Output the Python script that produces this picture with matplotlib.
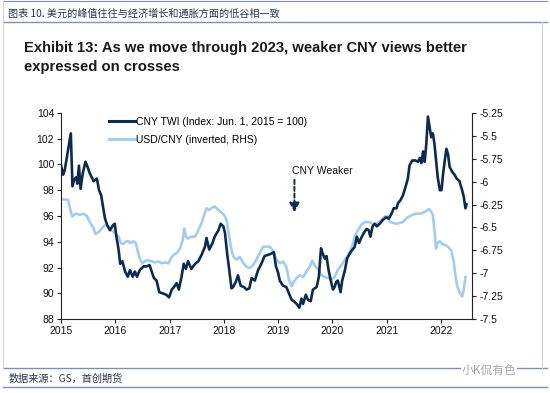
import matplotlib
matplotlib.use("Agg")
import matplotlib.pyplot as plt
from matplotlib.lines import Line2D

# CNY trade-weighted index (left axis), decimal year / value
twi_t = [2015.00, 2015.04, 2015.07, 2015.13, 2015.18, 2015.20, 2015.21, 2015.24, 2015.28, 2015.30,
         2015.33, 2015.36, 2015.40, 2015.45, 2015.48, 2015.53, 2015.60, 2015.66, 2015.70, 2015.74,
         2015.77, 2015.81, 2015.85, 2015.90, 2015.96, 2015.99, 2016.02, 2016.06, 2016.09, 2016.13,
         2016.18, 2016.23, 2016.27, 2016.32, 2016.36, 2016.40, 2016.45, 2016.52, 2016.58, 2016.63,
         2016.67, 2016.71, 2016.76, 2016.81, 2016.88, 2016.94, 2016.99, 2017.04, 2017.08, 2017.13,
         2017.17, 2017.22, 2017.26, 2017.30, 2017.34, 2017.40, 2017.47, 2017.53, 2017.59, 2017.65,
         2017.68, 2017.73, 2017.79, 2017.83, 2017.90, 2017.94, 2017.99, 2018.02, 2018.06, 2018.10,
         2018.14, 2018.17, 2018.22, 2018.26, 2018.31, 2018.37, 2018.42, 2018.47, 2018.51, 2018.57,
         2018.63, 2018.69, 2018.75, 2018.82, 2018.88, 2018.92, 2018.96, 2019.00, 2019.03, 2019.09,
         2019.15, 2019.20, 2019.25, 2019.29, 2019.34, 2019.39, 2019.43, 2019.46, 2019.51, 2019.55,
         2019.60, 2019.64, 2019.71, 2019.75, 2019.79, 2019.82, 2019.86, 2019.89, 2019.93, 2019.97,
         2020.01, 2020.04, 2020.07, 2020.10, 2020.15, 2020.18, 2020.23, 2020.27, 2020.32, 2020.37,
         2020.41, 2020.45, 2020.49, 2020.53, 2020.58, 2020.63, 2020.67, 2020.70, 2020.74, 2020.78,
         2020.82, 2020.87, 2020.93, 2020.99, 2021.04, 2021.09, 2021.13, 2021.18, 2021.21, 2021.25,
         2021.30, 2021.35, 2021.39, 2021.42, 2021.47, 2021.53, 2021.58, 2021.61, 2021.64, 2021.67,
         2021.70, 2021.73, 2021.76, 2021.79, 2021.82, 2021.85, 2021.88, 2021.91, 2021.94, 2021.98,
         2022.01, 2022.04, 2022.07, 2022.10, 2022.13, 2022.16, 2022.21, 2022.25, 2022.29, 2022.34,
         2022.39, 2022.42, 2022.45, 2022.47]
twi_v = [99.9, 99.2, 99.6, 101.1, 102.4, 99.8, 98.3, 98.8, 99.0, 98.5,
         99.9, 98.1, 99.3, 100.2, 99.9, 99.3, 98.7, 98.9, 98.0, 97.6,
         96.8, 95.8, 95.3, 94.9, 95.3, 95.4, 94.4, 93.4, 92.3, 92.5,
         91.7, 91.3, 91.8, 91.3, 91.7, 91.3, 91.8, 92.1, 92.1, 92.2,
         91.7, 91.2, 91.0, 90.1, 90.0, 89.9, 89.7, 90.3, 90.5, 90.8,
         90.3, 91.3, 92.3, 91.9, 92.5, 91.9, 92.3, 92.5, 93.0, 93.6,
         94.3, 93.4, 93.9, 94.4, 94.9, 95.4, 95.2, 94.7, 93.1, 91.8,
         90.4, 90.5, 90.9, 91.4, 90.6, 90.5, 90.3, 90.4, 91.2, 91.0,
         91.8, 92.3, 92.9, 93.0, 93.1, 93.2, 92.1, 91.6, 91.0, 90.6,
         90.5, 90.0, 89.5, 89.4, 89.2, 88.9, 89.6, 89.2, 89.9, 89.5,
         89.4, 90.3, 90.5, 91.3, 93.5, 93.1, 92.7, 92.9, 91.8, 91.0,
         90.3, 90.5, 90.9, 91.0, 90.1, 91.0, 91.8, 92.7, 93.1, 93.4,
         93.6, 94.4, 93.9, 94.3, 94.7, 95.0, 94.9, 94.4, 95.2, 95.4,
         95.2, 95.4, 95.7, 95.9, 95.8, 96.2, 96.6, 96.6, 97.0, 97.2,
         97.6, 98.3, 98.9, 99.9, 100.3, 100.3, 100.2, 100.5, 100.1, 101.0,
         100.2, 101.6, 103.7, 102.9, 102.1, 102.4, 101.6, 100.3, 99.0, 98.0,
         98.0, 99.3, 100.3, 101.2, 100.8, 99.8, 99.4, 99.2, 98.9, 98.7,
         98.0, 97.5, 96.6, 96.9]

# USD/CNY inverted (right axis)
usd_t = [2015.00, 2015.13, 2015.18, 2015.21, 2015.26, 2015.35, 2015.42, 2015.48, 2015.53, 2015.60,
         2015.63, 2015.67, 2015.72, 2015.78, 2015.83, 2015.87, 2015.93, 2015.99, 2016.06, 2016.10,
         2016.15, 2016.20, 2016.24, 2016.28, 2016.33, 2016.38, 2016.41, 2016.45, 2016.50, 2016.56,
         2016.62, 2016.67, 2016.73, 2016.79, 2016.85, 2016.91, 2016.98, 2017.02, 2017.07, 2017.13,
         2017.19, 2017.24, 2017.27, 2017.30, 2017.34, 2017.40, 2017.47, 2017.53, 2017.59, 2017.63,
         2017.68, 2017.73, 2017.77, 2017.83, 2017.90, 2017.94, 2018.00, 2018.05, 2018.10, 2018.14,
         2018.18, 2018.23, 2018.29, 2018.36, 2018.42, 2018.48, 2018.54, 2018.60, 2018.66, 2018.72,
         2018.79, 2018.85, 2018.91, 2018.97, 2019.03, 2019.09, 2019.15, 2019.20, 2019.25, 2019.29,
         2019.34, 2019.40, 2019.46, 2019.52, 2019.58, 2019.63, 2019.67, 2019.74, 2019.80, 2019.86,
         2019.92, 2019.98, 2020.04, 2020.10, 2020.17, 2020.23, 2020.29, 2020.36, 2020.41, 2020.47,
         2020.53, 2020.60, 2020.66, 2020.72, 2020.78, 2020.84, 2020.90, 2020.96, 2021.01, 2021.06,
         2021.12, 2021.18, 2021.24, 2021.30, 2021.36, 2021.42, 2021.48, 2021.55, 2021.61, 2021.67,
         2021.73, 2021.78, 2021.82, 2021.85, 2021.88, 2021.91, 2021.94, 2021.98, 2022.02, 2022.07,
         2022.13, 2022.19, 2022.24, 2022.27, 2022.30, 2022.34, 2022.39, 2022.42, 2022.45]
usd_v = [-6.19, -6.20, -6.33, -6.38, -6.35, -6.36, -6.35, -6.38, -6.44, -6.51,
         -6.57, -6.56, -6.53, -6.49, -6.47, -6.49, -6.53, -6.56, -6.60, -6.67,
         -6.68, -6.65, -6.65, -6.67, -6.65, -6.67, -6.75, -6.84, -6.89, -6.86,
         -6.86, -6.87, -6.88, -6.87, -6.89, -6.88, -6.89, -6.84, -6.80, -6.78,
         -6.73, -6.64, -6.51, -6.60, -6.62, -6.60, -6.60, -6.53, -6.45, -6.38,
         -6.29, -6.31, -6.29, -6.27, -6.31, -6.33, -6.36, -6.42, -6.60, -6.75,
         -6.82, -6.85, -6.82, -6.89, -6.93, -6.94, -6.91, -6.85, -6.78, -6.71,
         -6.71, -6.71, -6.76, -6.85, -6.89, -6.87, -6.93, -7.07, -7.14, -7.09,
         -7.05, -7.02, -7.04, -6.98, -6.93, -6.86, -6.91, -6.96, -7.02, -7.04,
         -7.05, -7.07, -7.04, -6.96, -6.91, -6.85, -6.80, -6.71, -6.60, -6.53,
         -6.47, -6.44, -6.44, -6.45, -6.47, -6.45, -6.42, -6.38, -6.38, -6.44,
         -6.45, -6.46, -6.45, -6.44, -6.40, -6.38, -6.36, -6.35, -6.35, -6.34,
         -6.32, -6.30, -6.33, -6.36, -6.53, -6.73, -6.67, -6.65, -6.68, -6.69,
         -6.71, -6.75, -6.89, -7.04, -7.14, -7.20, -7.25, -7.18, -7.04]

years = [2015, 2016, 2017, 2018, 2019, 2020, 2021, 2022]
left_ticks = [88, 90, 92, 94, 96, 98, 100, 102, 104]
right_ticks = [-5.25, -5.5, -5.75, -6, -6.25, -6.5, -6.75, -7, -7.25, -7.5]

dark = "#0c2b50"
light = "#a3cdf0"
frame = "#7d8fb3"

plt.rcParams['font.family'] = ['Liberation Sans', 'DejaVu Sans']
fig = plt.figure(figsize=(5.5, 3.93), dpi=100)

ax = fig.add_axes([0.111, 0.1875, 0.748, 0.5257])
ax2 = ax.twinx()
ax.set_zorder(ax2.get_zorder() + 1)
ax.patch.set_visible(False)

ax2.plot(usd_t, usd_v, color=light, lw=1.9, solid_joinstyle='round')
ax.plot(twi_t, twi_v, color=dark, lw=1.9, solid_joinstyle='round')

ax.set_xlim(2015, 2022.58)
ax.set_ylim(88, 104)
ax2.set_ylim(-7.5, -5.25)
ax.set_xticks(years)
ax.set_xticklabels([str(y) for y in years])
ax.set_yticks(left_ticks)
ax2.set_yticks(right_ticks)
ax2.set_yticklabels(['%g' % v for v in right_ticks])

for a in (ax, ax2):
    a.spines['top'].set_visible(False)
    for s in a.spines.values():
        s.set_color('#222222')
        s.set_linewidth(0.8)
    a.tick_params(axis='both', labelsize=7.5, length=3, width=0.8, color='#222222',
                  labelcolor='#111111', pad=2)
ax.spines['right'].set_visible(False)
ax2.spines['left'].set_visible(False)
ax2.spines['bottom'].set_visible(False)

handles = [Line2D([], [], color=dark, lw=2.2), Line2D([], [], color=light, lw=2.2)]
fig.legend(handles, ['CNY TWI (Index: Jun. 1, 2015 = 100)', 'USD/CNY (inverted, RHS)'],
           loc='upper left', bbox_to_anchor=(0.19, 0.713), frameon=False, fontsize=7.5,
           handlelength=2.5, handletextpad=0.15, labelspacing=0.75, borderaxespad=0)

# annotation
fig.text(0.53, 0.565, 'CNY Weaker', fontsize=7.5, color='#111111', va='center', ha='left')
ax.annotate('', xy=(2019.30, 96.3), xytext=(2019.30, 98.8),
            arrowprops=dict(arrowstyle='-|>,head_length=0.55,head_width=0.3',
                            linestyle=(0, (2.2, 1.3)), color=dark,
                            lw=1.4, mutation_scale=10, shrinkA=0, shrinkB=0))

# title and frame texts
fig.text(0.044, 0.895, 'Exhibit 13: As we move through 2023, weaker CNY views better\nexpressed on crosses',
         fontsize=10.6, fontweight='bold', color='#1a1a1a',
         va='top', ha='left', linespacing=1.45)
fig.text(0.015, 0.964, '图表 10. 美元的峰值往往与经济增长和通胀方面的低谷相一致', fontsize=7.3,
         color='#2b3550', va='center', ha='left', family=['Noto Sans CJK SC', 'DejaVu Sans'])
fig.text(0.015, 0.036, '数据来源：GS，首创期货', fontsize=7.3, color='#2b3550', va='center',
         ha='left', family=['Noto Sans CJK SC', 'DejaVu Sans'])
fig.text(0.84, 0.058, '小K侃有色', fontsize=8.5, color='#a8a8a8', va='center', ha='left',
         family=['Noto Sans CJK SC', 'DejaVu Sans'], zorder=5,
         bbox=dict(facecolor='white', edgecolor='none', pad=0.5))

# frame lines
fig.add_artist(Line2D([0.005, 0.995], [0.997, 0.997], color=frame, lw=0.8, transform=fig.transFigure))
fig.add_artist(Line2D([0.005, 0.995], [0.944, 0.944], color=frame, lw=1.0, transform=fig.transFigure))
fig.add_artist(Line2D([0.005, 0.995], [0.064, 0.064], color=frame, lw=1.0, transform=fig.transFigure))
fig.add_artist(Line2D([0.005, 0.995], [0.015, 0.015], color=frame, lw=1.0, transform=fig.transFigure))
fig.add_artist(Line2D([0.006, 0.006], [0.064, 0.997], color='#d5d5d5', lw=0.8, transform=fig.transFigure))
fig.add_artist(Line2D([0.986, 0.986], [0.064, 0.944], color='#d5d5d5', lw=0.8, transform=fig.transFigure))

fig.savefig('out.png', dpi=100)
